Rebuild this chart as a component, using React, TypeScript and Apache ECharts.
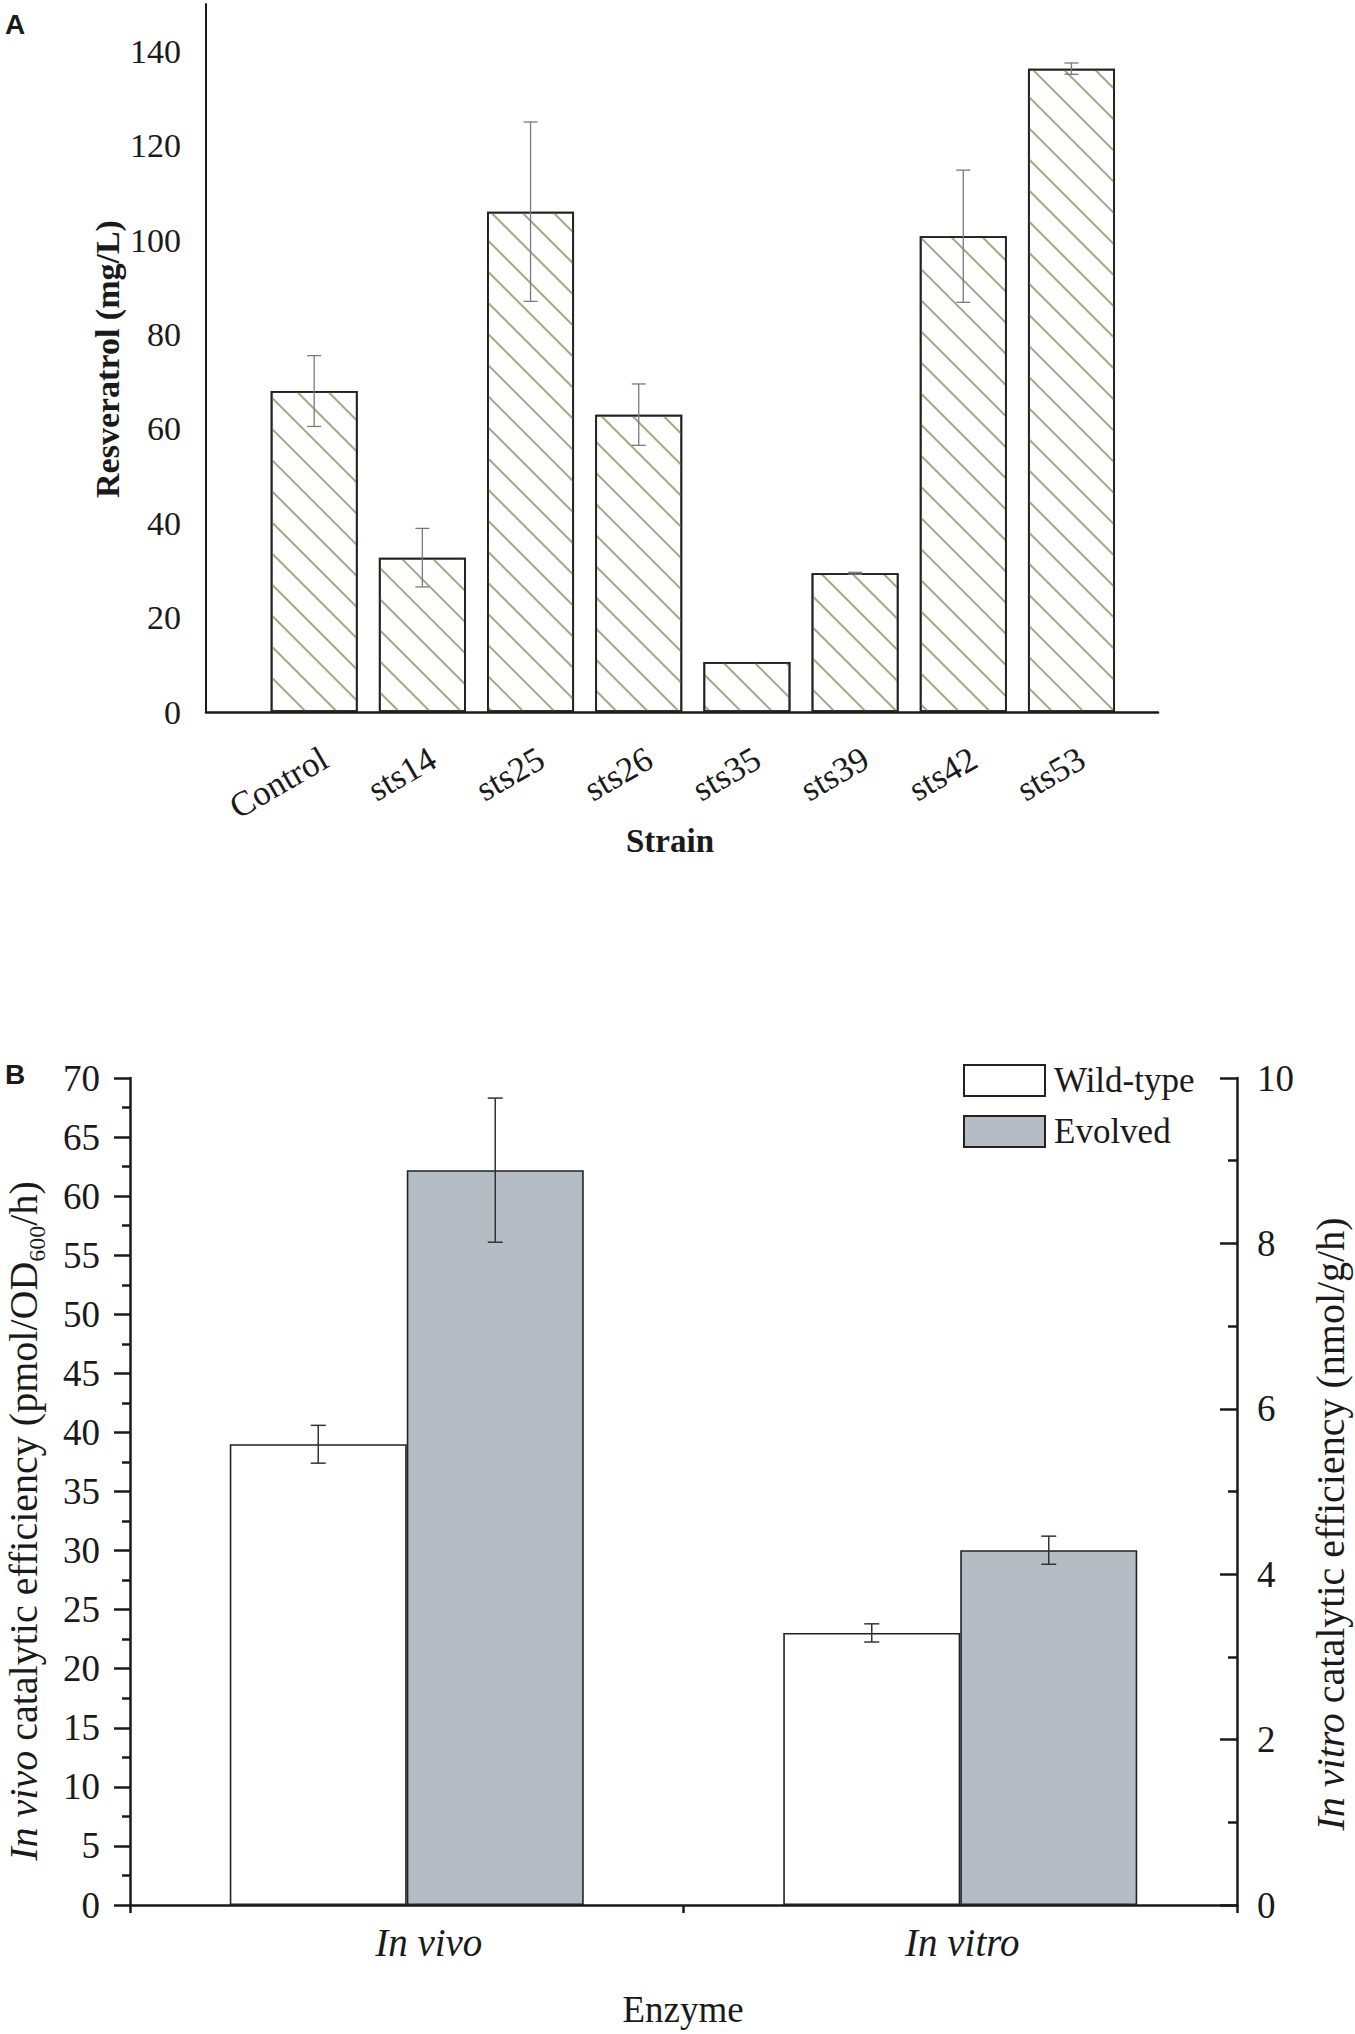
import React, { useEffect, useRef } from "react";
import * as echarts from "echarts";

// ---------- Panel A data ----------
const STRAINS = ["Control", "sts14", "sts25", "sts26", "sts35", "sts39", "sts42", "sts53"];
const RESV_MEAN = [68.0, 32.7, 106.0, 63.0, 10.6, 29.4, 100.8, 136.3];
const RESV_ERR = [7.5, 6.2, 19.0, 6.5, 0, 0.2, 14.0, 1.2];
const A_Y_TICKS = [0, 20, 40, 60, 80, 100, 120, 140];

// ---------- Panel B data ----------
const ENZYME = ["In vivo", "In vitro"];
// index 0: in vivo (pmol/OD600/h, left axis); index 1: in vitro (nmol/g/h, right axis)
const WILD_TYPE = [39.0, 3.29];
const WILD_TYPE_ERR = [1.6, 0.11];
const EVOLVED = [62.2, 4.29];
const EVOLVED_ERR = [6.1, 0.17];
const LEFT_MAX = 70;
const RIGHT_MAX = 10;

const SERIF = "'Liberation Serif', serif";
const SANS = "'Liberation Sans', sans-serif";
const INK = "#1a1a1a";

// convert index-1 (in vitro) values to left-axis scale
const toLeft = (arr: number[]) => arr.map((v, i) => (i === 1 ? (v * LEFT_MAX) / RIGHT_MAX : v));

const A_X_MAX = 8.8;
const LABEL_SHIFT = 0.1;

function optionA(): any {
  const barData = STRAINS.map((_, i) => [i + 1, RESV_MEAN[i]]);
  const errData = STRAINS.map((_, i) => [i + 1, RESV_MEAN[i] - RESV_ERR[i], RESV_MEAN[i] + RESV_ERR[i]]);
  const catLabel = (v: number) => {
    const r = Math.round(v);
    return Math.abs(v - r) < 1e-4 && r >= 1 && r <= STRAINS.length ? STRAINS[r - 1] : "";
  };
  return {
    animation: false,
    aria: { enabled: true, decal: { show: true } },
    grid: { left: 206, top: 4, width: 952, height: 708 },
    xAxis: [
      {
        type: "value",
        min: 0,
        max: A_X_MAX,
        interval: 1,
        splitLine: { show: false },
        axisTick: { show: false },
        axisLine: { show: true, lineStyle: { color: INK, width: 2.5 } },
        axisLabel: { show: false },
      },
      {
        // label-only axis, offset slightly so rotated labels sit like the reference
        type: "value",
        position: "bottom",
        min: -LABEL_SHIFT,
        max: A_X_MAX - LABEL_SHIFT,
        interval: 0.1,
        splitLine: { show: false },
        axisTick: { show: false },
        axisLine: { show: false },
        axisLabel: {
          rotate: 30,
          margin: 44,
          fontFamily: SERIF,
          fontSize: 35,
          color: INK,
          hideOverlap: false,
          showMinLabel: false,
          showMaxLabel: false,
          formatter: catLabel,
        },
      },
    ],
    yAxis: {
      type: "value",
      min: 0,
      max: 150,
      interval: 20,
      splitLine: { show: false },
      axisTick: { show: false },
      axisLine: { show: true, lineStyle: { color: INK, width: 2 } },
      axisLabel: {
        margin: 25,
        fontFamily: SERIF,
        fontSize: 34,
        color: INK,
        formatter: (v: number) => (A_Y_TICKS.includes(v) ? String(v) : ""),
      },
    },
    graphic: [
      { type: "text", left: 5, top: 10, style: { text: "A", font: `bold 28px ${SANS}`, fill: INK } },
      {
        type: "text",
        x: 107,
        y: 359,
        rotation: Math.PI / 2,
        style: { text: "Resveratrol (mg/L)", font: `bold 34px ${SERIF}`, fill: INK, align: "center", verticalAlign: "middle" },
      },
      {
        type: "text",
        x: 670,
        y: 841,
        style: { text: "Strain", font: `bold 33px ${SERIF}`, fill: INK, align: "center", verticalAlign: "middle" },
      },
    ],
    series: [
      {
        type: "bar",
        xAxisIndex: 0,
        data: barData,
        barWidth: 87,
        itemStyle: {
          color: "#ffffff",
          borderColor: "#222",
          borderWidth: 1.8,
          decal: {
            symbol: "rect",
            symbolSize: 1,
            color: "#a6a684",
            dashArrayX: [1, 0],
            dashArrayY: [1.5, 19.5],
            rotation: Math.PI / 4,
          },
        },
      },
      {
        type: "custom",
        xAxisIndex: 0,
        data: errData,
        encode: { x: 0, y: [1, 2] },
        z: 10,
        renderItem: (_p: any, api: any) => {
          const x = api.value(0);
          const lo = api.value(1);
          const hi = api.value(2);
          if (!(hi - lo > 0)) return null;
          const pLo = api.coord([x, lo]);
          const pHi = api.coord([x, hi]);
          const cw = 7;
          const style = { stroke: "#7a7a7a", lineWidth: 1.3 };
          return {
            type: "group",
            children: [
              { type: "line", shape: { x1: pHi[0], y1: pHi[1], x2: pLo[0], y2: pLo[1] }, style },
              { type: "line", shape: { x1: pHi[0] - cw, y1: pHi[1], x2: pHi[0] + cw, y2: pHi[1] }, style },
              { type: "line", shape: { x1: pLo[0] - cw, y1: pLo[1], x2: pLo[0] + cw, y2: pLo[1] }, style },
            ],
          };
        },
      },
    ],
  };
}

function optionB(): any {
  const BW = 177;
  const wt = toLeft(WILD_TYPE);
  const ev = toLeft(EVOLVED);
  const wtE = toLeft(WILD_TYPE_ERR);
  const evE = toLeft(EVOLVED_ERR);
  const errData: number[][] = [];
  ENZYME.forEach((_, i) => {
    errData.push([i, wt[i] - wtE[i], wt[i] + wtE[i], -1]);
    errData.push([i, ev[i] - evE[i], ev[i] + evE[i], 1]);
  });
  const tickStyle = { color: INK, width: 2.5 };
  return {
    animation: false,
    grid: { left: 130, right: 118, top: 78, bottom: 129 },
    legend: {
      orient: "vertical",
      left: 958,
      top: 58,
      icon: "rect",
      itemWidth: 81,
      itemHeight: 31,
      itemGap: 16,
      itemStyle: { borderColor: "#222", borderWidth: 2 },
      textStyle: { fontFamily: SERIF, fontSize: 35, color: INK, padding: [0, 0, 0, 4] },
      data: ["Wild-type", "Evolved"],
    },
    xAxis: {
      type: "category",
      data: ENZYME,
      boundaryGap: true,
      axisLine: { lineStyle: tickStyle },
      axisTick: { show: true, length: 8, lineStyle: tickStyle },
      axisLabel: {
        margin: 18,
        fontFamily: SERIF,
        fontSize: 39,
        fontStyle: "italic",
        color: INK,
        formatter: (v: string) => (v === ENZYME[0] ? `{a|${v}}` : `{b|${v}}`),
        rich: {
          a: { fontFamily: SERIF, fontSize: 39, fontStyle: "italic", color: INK, padding: [0, 0, 0, 44] },
          b: { fontFamily: SERIF, fontSize: 39, fontStyle: "italic", color: INK, padding: [0, 0, 0, 4] },
        },
      },
    },
    yAxis: [
      {
        type: "value",
        min: 0,
        max: LEFT_MAX,
        interval: 5,
        splitLine: { show: false },
        axisLine: { show: true, lineStyle: tickStyle },
        axisTick: { show: true, length: 16, lineStyle: tickStyle },
        minorTick: { show: true, splitNumber: 2, length: 8, lineStyle: { color: INK, width: 2.5 } },
        minorSplitLine: { show: false },
        axisLabel: { margin: 30, fontFamily: SERIF, fontSize: 37, color: INK },
      },
      {
        type: "value",
        position: "right",
        min: 0,
        max: RIGHT_MAX,
        interval: 2,
        splitLine: { show: false },
        axisLine: { show: true, lineStyle: tickStyle },
        axisTick: { show: true, inside: true, length: 17, lineStyle: tickStyle },
        minorTick: { show: true, splitNumber: 2, length: 9, lineStyle: { color: INK, width: 2.5 } },
        minorSplitLine: { show: false },
        axisLabel: { margin: 20, fontFamily: SERIF, fontSize: 37, color: INK },
      },
    ],
    graphic: [
      { type: "text", left: 5, top: 60, style: { text: "B", font: `bold 28px ${SANS}`, fill: INK } },
      {
        type: "text",
        x: 23,
        y: 521,
        rotation: Math.PI / 2,
        style: {
          text: "{i|In vivo} catalytic efficiency (pmol/OD{s|600}/h)",
          font: `40px ${SERIF}`,
          fill: INK,
          align: "center",
          verticalAlign: "middle",
          rich: {
            i: { fontFamily: SERIF, fontSize: 40, fontStyle: "italic", lineHeight: 52, fill: INK },
            s: { fontFamily: SERIF, fontSize: 24, verticalAlign: "bottom", lineHeight: 52, fill: INK },
          },
          lineHeight: 52,
        },
      },
      {
        type: "text",
        x: 1330,
        y: 524,
        rotation: Math.PI / 2,
        style: {
          text: "{i|In vitro} catalytic efficiency (nmol/g/h)",
          font: `40px ${SERIF}`,
          fill: INK,
          align: "center",
          verticalAlign: "middle",
          lineHeight: 40,
          rich: { i: { fontFamily: SERIF, fontSize: 40, fontStyle: "italic", lineHeight: 40, fill: INK } },
        },
      },
      {
        type: "text",
        x: 683,
        y: 1009,
        style: { text: "Enzyme", font: `37px ${SERIF}`, fill: INK, align: "center", verticalAlign: "middle" },
      },
    ],
    series: [
      {
        name: "Wild-type",
        type: "bar",
        data: wt,
        barWidth: BW,
        barGap: "0%",
        itemStyle: { color: "#ffffff", borderColor: "#222", borderWidth: 1.6 },
      },
      {
        name: "Evolved",
        type: "bar",
        data: ev,
        barWidth: BW,
        barGap: "0%",
        itemStyle: { color: "#b6bcc4", borderColor: "#222", borderWidth: 1.6 },
      },
      {
        type: "custom",
        data: errData,
        encode: { x: 0, y: [1, 2] },
        z: 10,
        renderItem: (_p: any, api: any) => {
          const c = api.value(0);
          const lo = api.value(1);
          const hi = api.value(2);
          const dir = api.value(3);
          const pLo = api.coord([c, lo]);
          const pHi = api.coord([c, hi]);
          const x = pLo[0] + (dir * BW) / 2;
          const cw = 7.5;
          const style = { stroke: "#333", lineWidth: 1.5 };
          return {
            type: "group",
            children: [
              { type: "line", shape: { x1: x, y1: pHi[1], x2: x, y2: pLo[1] }, style },
              { type: "line", shape: { x1: x - cw, y1: pHi[1], x2: x + cw, y2: pHi[1] }, style },
              { type: "line", shape: { x1: x - cw, y1: pLo[1], x2: x + cw, y2: pLo[1] }, style },
            ],
          };
        },
      },
    ],
  };
}

function Chart({ top, height, build }: { top: number; height: number; build: () => any }) {
  const ref = useRef<HTMLDivElement>(null);
  useEffect(() => {
    if (!ref.current) return;
    const chart = echarts.init(ref.current, null, { renderer: "svg" });
    chart.setOption(build());
    return () => chart.dispose();
  }, [build]);
  return <div ref={ref} style={{ position: "absolute", left: 0, top, width: 1355, height }} />;
}

export default function App() {
  return (
    <div style={{ position: "absolute", left: 0, top: 0, width: 1355, height: 2034, background: "#fff" }}>
      <Chart top={0} height={1000} build={optionA} />
      <Chart top={1000} height={1034} build={optionB} />
    </div>
  );
}
